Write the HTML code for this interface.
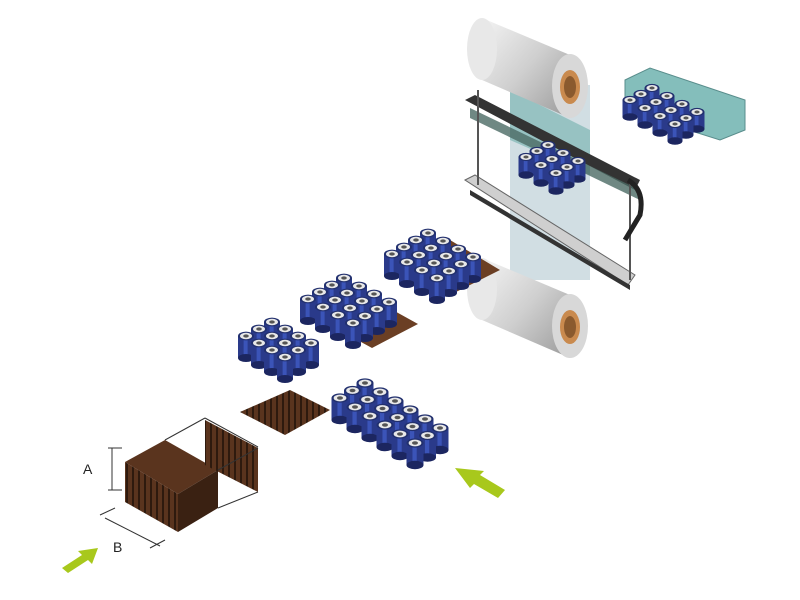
<!DOCTYPE html>
<html><head><meta charset="utf-8"><style>body{margin:0;background:#fff}svg{display:block}</style></head>
<body>
<svg id="s" width="800" height="600" viewBox="0 0 800 600" xmlns="http://www.w3.org/2000/svg" font-family="Liberation Sans, sans-serif">
<defs>
<linearGradient id="roll" x1="0" y1="0" x2="1" y2="1"><stop offset="0" stop-color="#f4f4f4"/><stop offset="0.5" stop-color="#cfcfcf"/><stop offset="1" stop-color="#9a9a9a"/></linearGradient>
<pattern id="stripes" width="6" height="6" patternUnits="userSpaceOnUse"><rect width="6" height="6" fill="#5a341e"/><rect width="2" height="6" fill="#2e1a0e"/></pattern>
</defs>
<!-- film -->
<polygon points="510,85 590,85 590,280 510,280" fill="#c6d6dc" opacity="0.8"/>
<polygon points="510,90 590,130 590,175 510,140" fill="#7fb6b4" opacity="0.7"/>
<!-- top roll -->
<g>
<path d="M482,18 L570,55 L570,118 L482,80 Z" fill="url(#roll)"/>
<ellipse cx="482" cy="49" rx="15" ry="31" fill="#e8e8e8"/>
<ellipse cx="570" cy="86" rx="18" ry="32" fill="#d8d8d8"/>
<ellipse cx="570" cy="87" rx="10" ry="17" fill="#c98a4e"/>
<ellipse cx="570" cy="87" rx="6" ry="11" fill="#8a5a2e"/>
</g>
<!-- frame -->
<polygon points="465,100 475,95 640,180 635,190" fill="#333"/>
<polygon points="470,108 640,190 640,200 470,118" fill="#4b6a64" opacity="0.8"/>
<polygon points="465,180 475,175 635,275 628,285" fill="#cfcfcf" stroke="#666"/>
<polygon points="470,190 630,285 630,290 470,195" fill="#333"/>
<line x1="478" y1="90" x2="478" y2="185" stroke="#555" stroke-width="2"/>
<line x1="630" y1="180" x2="630" y2="280" stroke="#555" stroke-width="2"/>
<path d="M628,180 Q645,190 640,215 L625,240" stroke="#222" stroke-width="5" fill="none"/>
<!-- bottom roll -->
<g>
<path d="M482,258 L570,295 L570,358 L482,320 Z" fill="url(#roll)"/>
<ellipse cx="482" cy="289" rx="15" ry="31" fill="#e8e8e8"/>
<ellipse cx="570" cy="326" rx="18" ry="32" fill="#d8d8d8"/>
<ellipse cx="570" cy="327" rx="10" ry="17" fill="#c98a4e"/>
<ellipse cx="570" cy="327" rx="6" ry="11" fill="#8a5a2e"/>
</g>
<!-- top right box -->
<polygon points="625,80 650,68 745,100 745,130 720,140 625,110" fill="#6fb3b0" opacity="0.85" stroke="#3d7a78"/>
<!-- trays -->
<polygon points="402,265 450,240 500,270 450,295" fill="#6b3f24"/>
<polygon points="317,318 362,293 418,324 372,348" fill="#6b3f24"/>
<polygon points="240,412 290,390 330,410 285,435" fill="url(#stripes)"/>
<!-- cube stack -->
<polygon points="125,462 165,440 218,470 178,494" fill="#5a341e"/>
<polygon points="125,462 178,494 178,532 125,502" fill="url(#stripes)"/>
<polygon points="178,494 218,470 218,508 178,532" fill="#3a2112"/>
<polygon points="205,420 258,448 258,492 205,465" fill="url(#stripes)"/>
<g stroke="#333" stroke-width="1" fill="none">
<line x1="165" y1="440" x2="205" y2="418"/><line x1="218" y1="508" x2="258" y2="492"/>
<line x1="218" y1="470" x2="258" y2="448"/><line x1="205" y1="418" x2="258" y2="447"/>
<line x1="108" y1="448" x2="122" y2="448"/><line x1="108" y1="490" x2="122" y2="490"/>
<line x1="112" y1="448" x2="112" y2="490"/>
<line x1="100" y1="515" x2="115" y2="508"/><line x1="150" y1="548" x2="165" y2="540"/>
<line x1="105" y1="518" x2="160" y2="546"/>
</g>
<text x="83" y="474" font-size="14" fill="#222">A</text>
<text x="113" y="552" font-size="14" fill="#222">B</text>
<!-- arrows -->
<polygon points="62,568 82,555 78,551 98,548 92,564 88,560 68,573" fill="#a8c81c"/>
<polygon points="505,490 480,475 484,471 455,468 470,488 474,484 498,498" fill="#a8c81c"/>
<g id="cans"></g>
</svg>
<script>
var g=document.getElementById('cans');
function can(x,y,r,h){var s='';
s+='<rect x="'+(x-r)+'" y="'+y+'" width="'+(2*r)+'" height="'+h+'" fill="#2a3a8a"/>';
s+='<rect x="'+(x-r*0.3)+'" y="'+y+'" width="'+(r*0.5)+'" height="'+h+'" fill="#3b54b8"/>';
s+='<ellipse cx="'+x+'" cy="'+(y+h)+'" rx="'+r+'" ry="'+(r*0.5)+'" fill="#1c2660"/>';
s+='<ellipse cx="'+x+'" cy="'+y+'" rx="'+r+'" ry="'+(r*0.55)+'" fill="#22306e"/>';
s+='<ellipse cx="'+x+'" cy="'+y+'" rx="'+(r*0.75)+'" ry="'+(r*0.4)+'" fill="#e8e8e8"/>';
s+='<ellipse cx="'+x+'" cy="'+y+'" rx="'+(r*0.35)+'" ry="'+(r*0.2)+'" fill="#555"/>';
return s;}
function grp(x0,y0,n,m,ax,ay,bx,by,r,h){var list=[];
for(var i=0;i<n;i++)for(var j=0;j<m;j++)list.push([x0+i*ax+j*bx,y0+i*ay+j*by]);
list.sort(function(a,b){return a[1]-b[1]});var s='';list.forEach(function(p){s+=can(p[0],p[1],r,h)});return s;}
var out='';
out+=grp(652,88,4,3,15,8,-11,6,7.5,17);
out+=grp(548,145,3,3,15,8,-11,6,7.5,18);
out+=grp(428,233,4,4,15,8,-12,7,8,22);
out+=grp(344,278,4,4,15,8,-12,7,8,22);
out+=grp(272,322,3,4,-13,7,13,7,8,22);
out+=grp(365,383,6,3,15,9,-12.5,7.5,8.5,22);
g.innerHTML=out;
</script>
</body></html>
